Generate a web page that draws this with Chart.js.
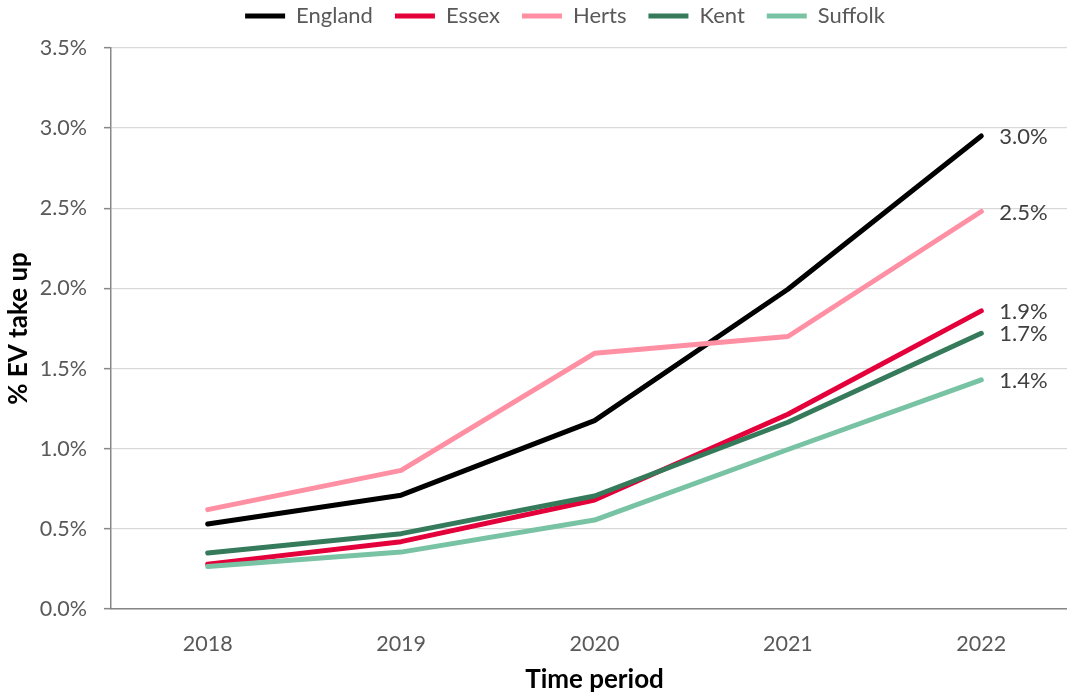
<!DOCTYPE html>
<html>
<head>
<meta charset="utf-8">
<script src="https://cdn.jsdelivr.net/npm/chart.js"></script>
<style>
  html, body { margin: 0; padding: 0; background: #ffffff; overflow: hidden; width: 1067px; height: 697px; }
  #wrap { width: 1078px; height: 697px; position: relative; }
</style>
</head>
<body>
<div id="wrap"><canvas id="c" width="1078" height="697"></canvas></div>
<script>
// ---- Data (percent values) ----
const years = ['2018', '2019', '2020', '2021', '2022'];
const england = [0.53, 0.71, 1.175, 1.995, 2.951];
const essex   = [0.28, 0.42, 0.68, 1.215, 1.86];
const herts   = [0.62, 0.865, 1.595, 1.70, 2.48];
const kent    = [0.35, 0.47, 0.705, 1.165, 1.72];
const suffolk = [0.265, 0.355, 0.555, 0.995, 1.43];
const seriesNames = ['England', 'Essex', 'Herts', 'Kent', 'Suffolk'];
const seriesColors = ['#000000', '#e4003b', '#ff8fa3', '#357a5a', '#79c3a5'];
const yTicks = [0, 0.5, 1.0, 1.5, 2.0, 2.5, 3.0, 3.5];

const FONT = 'Lato';
Chart.defaults.font.family = FONT;

const seriesData = [england, essex, herts, kent, suffolk];
const datasets = seriesData.map((d, i) => ({
  label: seriesNames[i],
  data: d,
  borderColor: seriesColors[i],
  backgroundColor: seriesColors[i],
  borderWidth: 5,
  borderCapStyle: 'round',
  borderJoinStyle: 'round',
  pointRadius: 0,
  pointHoverRadius: 0,
  pointStyle: 'line',
  tension: 0,
  order: seriesData.length - 1 - i
}));

// end-of-line value labels
const endLabels = {
  id: 'endLabels',
  afterDatasetsDraw(chart) {
    const ctx = chart.ctx;
    ctx.save();
    ctx.font = '22px ' + FONT;
    ctx.fillStyle = '#404040';
    ctx.textAlign = 'left';
    ctx.textBaseline = 'middle';
    chart.data.datasets.forEach((ds, i) => {
      const meta = chart.getDatasetMeta(i);
      const pt = meta.data[meta.data.length - 1];
      const v = ds.data[ds.data.length - 1];
      ctx.fillText(v.toFixed(1) + '%', pt.x + 18, pt.y + 1);
    });
    ctx.restore();
  }
};

// shift legend to match reference placement
const legendShift = {
  id: 'legendShift',
  afterLayout(chart) {
    const l = chart.legend;
    if (!l) return;
    const dx = 26, dy = -17;
    l.left += dx; l.right += dx;
    l.top += dy; l.bottom += dy;
  }
};

new Chart(document.getElementById('c'), {
  type: 'line',
  data: { labels: years, datasets: datasets },
  plugins: [endLabels, legendShift],
  options: {
    responsive: false,
    devicePixelRatio: 1,
    animation: false,
    layout: { padding: 0 },
    plugins: {
      tooltip: { enabled: false },
      legend: {
        position: 'top',
        align: 'center',
        maxHeight: 48,
        labels: {
          usePointStyle: true,
          pointStyleWidth: 40,
          padding: 22,
          color: '#595959',
          font: { size: 22, family: FONT },
          sort: (a, b) => a.datasetIndex - b.datasetIndex
        }
      }
    },
    scales: {
      x: {
        type: 'category',
        offset: true,
        grid: { display: false, drawTicks: false },
        border: { display: true, color: '#878787', width: 1.5 },
        ticks: { color: '#595959', font: { size: 21.5, family: FONT }, padding: 22, maxRotation: 0 },
        title: { display: true, text: 'Time period', color: '#000000', font: { size: 26, weight: 'bold', family: FONT }, padding: { top: 0, bottom: 2 } },
        afterFit(scale) { scale.height = 88; }
      },
      y: {
        min: 0,
        max: 3.5,
        afterBuildTicks(scale) { scale.ticks = yTicks.map(v => ({ value: v })); },
        grid: { color: '#d9d9d9', lineWidth: 1.3, drawTicks: true, tickLength: 7, tickColor: '#878787', tickWidth: 1.5 },
        border: { display: true, color: '#878787', width: 1.5 },
        ticks: { color: '#595959', font: { size: 21.5, family: FONT }, padding: 17, callback: v => Number(v).toFixed(1) + '%' },
        title: { display: true, text: '% EV take up', color: '#000000', font: { size: 26, weight: 'bold', family: FONT }, padding: { top: 3, bottom: 0 } },
        afterFit(scale) { scale.width = 111; }
      }
    }
  }
});
</script>
</body>
</html>
